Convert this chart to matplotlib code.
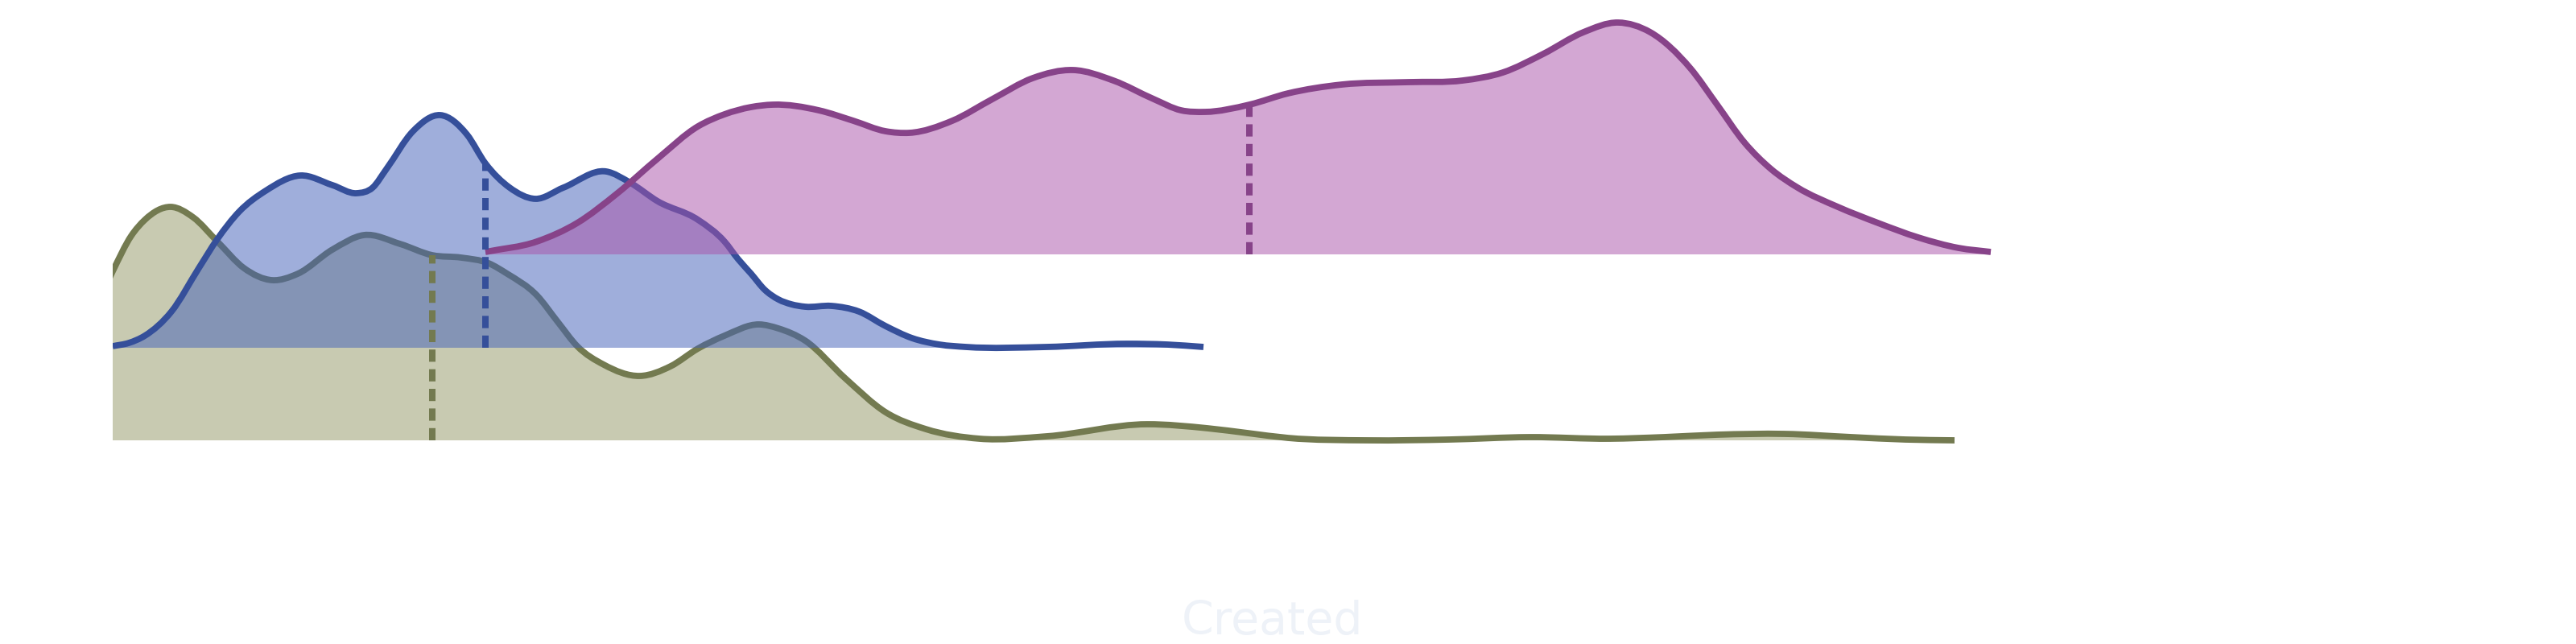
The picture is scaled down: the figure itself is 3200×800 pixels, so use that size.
import matplotlib

matplotlib.use("Agg")
import matplotlib.pyplot as plt  # noqa: E402
import numpy as np  # noqa: E402
from matplotlib.patches import PathPatch  # noqa: E402
from matplotlib.path import Path  # noqa: E402

# Ridgeline of "Created" densities, one row per group (bottom to top)
olive_x = [-2.0, 0.0, 2.3, 4.0, 7.2, 10.0, 13.0, 16.3, 19.8, 23.0, 27.3, 31.2, 35.7, 39.7,
           43.3, 46.7, 49.0, 52.7, 55.3, 57.7, 61.0, 65.5, 69.3, 72.7, 76.0, 80.3, 82.7, 86.0,
           91.0, 96.0, 101.0, 107.7, 116.0, 128.5, 136.0, 141.0, 146.0, 156.0, 166.0, 176.0,
           186.0, 192.7, 199.3, 207.7, 216.0, 222.7, 228.8]
olive_y = [1.67, 2.10, 2.54, 2.74, 2.90, 2.77, 2.47, 2.14, 1.99, 2.07, 2.37, 2.55, 2.44, 2.30,
           2.27, 2.20, 2.07, 1.80, 1.47, 1.17, 0.94, 0.80, 0.92, 1.14, 1.30, 1.44, 1.39, 1.24,
           0.77, 0.35, 0.14, 0.02, 0.05, 0.20, 0.15, 0.09, 0.03, 0.00, 0.01, 0.04,
           0.02, 0.04, 0.07, 0.08, 0.04, 0.01, 0.00]

blue_x = [0.0, 2.0, 4.0, 7.3, 10.7, 13.0, 15.7, 19.0, 23.3, 27.3, 30.3, 32.3, 34.0, 37.3,
          40.7, 44.0, 46.3, 49.3, 52.5, 56.0, 61.3, 64.3, 67.7, 72.7, 76.0, 77.7, 79.3, 81.0,
          82.7, 84.3, 86.0, 89.3, 92.7, 96.0, 99.3, 102.7, 106.0, 116.0, 126.0, 131.0, 135.5]
blue_y = [0.02, 0.06, 0.15, 0.45, 0.99, 1.35, 1.69, 1.95, 2.14, 2.02, 1.92, 1.99, 2.22, 2.69,
          2.89, 2.65, 2.29, 1.99, 1.85, 1.99, 2.19, 2.05, 1.82, 1.59, 1.32, 1.10, 0.92, 0.72,
          0.60, 0.54, 0.51, 0.52, 0.45, 0.27, 0.12, 0.04, 0.01, 0.01, 0.05, 0.04, 0.01]

purple_x = [46.3, 52.7, 57.7, 62.7, 67.7, 72.7, 76.0, 79.3, 82.0, 87.7, 92.0, 96.0, 99.0,
            104.3, 109.3, 114.3, 119.3, 124.3, 129.3, 132.7, 135.7, 141.2, 146.0, 152.7,
            161.0, 167.7, 172.7, 177.7, 182.7, 187.0, 191.0, 196.0, 199.3, 202.7, 206.0,
            209.3, 214.3, 219.3, 224.3, 229.3, 233.3]
purple_y = [0.03, 0.16, 0.39, 0.76, 1.19, 1.59, 1.74, 1.83, 1.86, 1.79, 1.66, 1.53, 1.51,
            1.66, 1.93, 2.19, 2.29, 2.16, 1.93, 1.79, 1.77, 1.86, 2.00, 2.11,
            2.14, 2.16, 2.26, 2.49, 2.76, 2.88, 2.76, 2.31, 1.86, 1.39, 1.06,
            0.83, 0.59, 0.39, 0.21, 0.08, 0.03]

medians = [39.7, 46.3, 141.2]
offsets = [0.0, 1.15, 2.31]
line_colors = ["#737a50", "#354f9a", "#874389"]
fill_colors = ["#939765", "#415fb9", "#a951a9"]


def curve_path(x, y, close_at=None):
    """Smooth path through the points (cubic Hermite as Bezier segments)."""
    m = np.gradient(y, x)
    verts = [(x[0], y[0])]
    codes = [Path.MOVETO]
    for i in range(len(x) - 1):
        h = x[i + 1] - x[i]
        verts += [(x[i] + h / 3, y[i] + m[i] * h / 3),
                  (x[i + 1] - h / 3, y[i + 1] - m[i + 1] * h / 3),
                  (x[i + 1], y[i + 1])]
        codes += [Path.CURVE4] * 3
    if close_at is not None:
        verts += [(x[-1], close_at), (x[0], close_at), (x[0], y[0])]
        codes += [Path.LINETO, Path.LINETO, Path.CLOSEPOLY]
    return Path(verts, codes)


def curve_at(x, y, xv):
    m = np.gradient(y, x)
    i = min(max(np.searchsorted(x, xv) - 1, 0), len(x) - 2)
    h = x[i + 1] - x[i]
    t = (xv - x[i]) / h
    h00, h10 = 2 * t**3 - 3 * t**2 + 1, t**3 - 2 * t**2 + t
    h01, h11 = -2 * t**3 + 3 * t**2, t**3 - t**2
    return h00 * y[i] + h10 * h * m[i] + h01 * y[i + 1] + h11 * h * m[i + 1]


fig = plt.figure(figsize=(32, 8), dpi=100)
PT = 72 / fig.dpi  # points per output pixel
ax = fig.add_axes([0.04375, 0.125, 0.900625, 0.875])

rows = [(olive_x, olive_y), (blue_x, blue_y), (purple_x, purple_y)]
for (xs, ys), off, med, lc, fc in zip(rows, offsets, medians, line_colors, fill_colors):
    xs = np.asarray(xs, dtype=float)
    ys = np.asarray(ys, dtype=float) + off
    ax.add_patch(PathPatch(curve_path(xs, ys, close_at=off), facecolor=fc, alpha=0.5, lw=0))
    ax.add_patch(PathPatch(curve_path(xs, ys), facecolor="none", edgecolor=lc,
                           lw=7.8 * PT, joinstyle="round", capstyle="butt"))
    top = curve_at(xs, ys, med)
    ax.plot([med, med], [off, top], color=lc, lw=8 * PT, linestyle=(0, (1.9, 1.15)),
            dash_capstyle="butt")

ax.set_xlim(0, 288.2)
ax.set_ylim(-1.53, 5.47)
ax.set_axis_off()

fig.text(0.5 * (0.04375 + 0.944375), 1 - 788 / 800, "Created", ha="center", va="baseline",
         fontsize=57 * PT, color="#eef2f8")

fig.savefig("out.png", facecolor="white")
